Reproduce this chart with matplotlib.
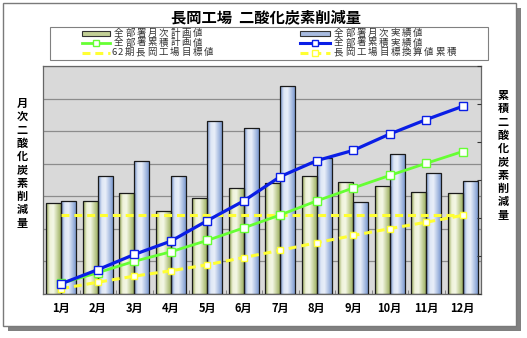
import numpy as np
import matplotlib
matplotlib.use('Agg')
import matplotlib.pyplot as plt
from matplotlib.patches import Rectangle
from matplotlib.lines import Line2D
from matplotlib.colors import LinearSegmentedColormap

plt.rcParams['font.family'] = ['Noto Sans CJK JP', 'DejaVu Sans']

months = ['1月', '2月', '3月', '4月', '5月', '6月', '7月', '8月', '9月', '10月', '11月', '12月']
plan_monthly = [279, 285, 309, 255, 295, 326, 340, 362, 344, 333, 313, 310]
actual_monthly = [287, 361, 407, 361, 532, 510, 638, 417, 281, 430, 370, 346]
plan_cum = [280, 560, 860, 1110, 1410, 1740, 2080, 2450, 2790, 3120, 3440, 3750]
actual_cum = [270, 640, 1040, 1390, 1930, 2450, 3090, 3510, 3780, 4210, 4590, 4940]
target_monthly = [242] * 12
target_cum = [140, 310, 470, 610, 770, 960, 1150, 1350, 1540, 1720, 1890, 2070]

W, H = 527, 338
fig = plt.figure(figsize=(W / 100, H / 100), dpi=100)

# overlay in pixel coords for frame, title, legend, axis labels
ov = fig.add_axes([0, 0, 1, 1], zorder=0)
ov.set_xlim(0, W)
ov.set_ylim(H, 0)
ov.axis('off')
ov.add_patch(Rectangle((8, 8), 513, 323, facecolor='#808080', edgecolor='none'))
ov.add_patch(Rectangle((3, 3), 513, 323, facecolor='white', edgecolor='#7a7a7a', lw=1))
ov.text(266, 17, '長岡工場  二酸化炭素削減量', fontsize=11, fontweight='bold',
        ha='center', va='center')

# legend
ov.add_patch(Rectangle((50, 27), 438, 33, facecolor='white', edgecolor='#808080', lw=0.8))
blue_c = '#0a1ee6'
green_c = '#66ff33'
yellow_c = '#ffff33'
rows = [33.5, 43, 52.5]
ov.add_patch(Rectangle((82, rows[0] - 2.5), 28, 5, facecolor='#c3d096', edgecolor='#333333', lw=0.8))
ov.add_patch(Rectangle((300, rows[0] - 2.5), 30, 5, facecolor='#a8bbe0', edgecolor='#333333', lw=0.8))
ov.add_line(Line2D([82, 96, 110], [rows[1]] * 3, color=green_c, lw=2, marker='s', markevery=[1],
                   markersize=5, markerfacecolor='white', markeredgecolor=green_c))
ov.add_line(Line2D([300, 315, 330], [rows[1]] * 3, color=blue_c, lw=2.2, marker='s', markevery=[1],
                   markersize=5, markerfacecolor='white', markeredgecolor=blue_c))
ov.add_line(Line2D([82, 110], [rows[2]] * 2, color=yellow_c, lw=2.2, ls=(0, (2.6, 1.6))))
ov.add_line(Line2D([300, 315, 330], [rows[2]] * 3, color=yellow_c, lw=2.2, ls=(0, (2.6, 1.6)),
                   marker='s', markevery=[1], markersize=4.5, markerfacecolor='white',
                   markeredgecolor=yellow_c))
labels = [('全部署月次計画値', 113, rows[0]), ('全部署累積計画値', 113, rows[1]),
          ('62期長岡工場目標値', 111, rows[2]), ('全部署月次実績値', 333, rows[0]),
          ('全部署累積実績値', 333, rows[1]), ('長岡工場目標換算値累積', 333, rows[2])]
for txt, x, y in labels:
    # letter-spaced like the original
    for ch in txt:
        w = 6.3 if ch.isascii() else 11.3
        ov.text(x + w / 2, y, ch, fontsize=6.8, ha='center', va='center', color='#333333')
        x += w

for i, ch in enumerate('月次二酸化炭素削減量'):
    ov.text(22, 103.5 + i * 13.3, ch, fontsize=8, fontweight='bold', ha='center', va='center')
for i, ch in enumerate('累積二酸化炭素削減量'):
    ov.text(503, 95.5 + i * 13.3, ch, fontsize=8, fontweight='bold', ha='center', va='center')

# main axes
x0, x1, ytop, ybot = 43, 481, 66, 294
ax = fig.add_axes([x0 / W, 1 - ybot / H, (x1 - x0) / W, (ybot - ytop) / H], zorder=1)
ax.set_facecolor('#d9d9d9')
x = np.arange(1, 13)
bw = 0.41

green_cm = LinearSegmentedColormap.from_list('g', ['#8ea04e', '#eef2d8', '#f4f7e6', '#c9d5a2', '#9fb163'])
blue_cm = LinearSegmentedColormap.from_list('b', ['#6d8cc4', '#dde6f5', '#e9eff9', '#b4c6e6', '#7e9bd0'])
grad = np.linspace(0, 1, 64).reshape(1, -1)

def gradient_bars(xs, vals, cmap):
    bars = ax.bar(xs, vals, width=bw, facecolor='none', edgecolor='#1a1a1a', lw=0.9, zorder=3)
    for b in bars:
        im = ax.imshow(grad, cmap=cmap, aspect='auto', zorder=2.5,
                       extent=[b.get_x(), b.get_x() + b.get_width(), 0, b.get_height()])
        im.set_clip_path(b)
    return bars

gradient_bars(x - bw / 2, plan_monthly, green_cm)
gradient_bars(x + bw / 2, actual_monthly, blue_cm)
ax.plot(x, target_monthly, color=yellow_c, lw=2.2, ls=(0, (2.6, 1.6)), zorder=4)

ax.set_xlim(0.5, 12.5)
ax.set_ylim(0, 700)
ax.set_yticks(np.arange(0, 701, 100))
ax.yaxis.grid(True, color='#8c8c8c', lw=0.9)
ax.set_axisbelow(True)
ax.tick_params(axis='y', length=0, labelleft=False)
ax.set_xticks(x)
ax.set_xticklabels(months, fontsize=8, fontweight='bold')
ax.tick_params(axis='x', length=0, pad=6)
ax.set_xticks(np.arange(1.5, 12, 1), minor=True)
ax.tick_params(axis='x', which='minor', direction='in', length=3, color='#777777')
for s in ax.spines.values():
    s.set_color('#666666')
    s.set_linewidth(0.9)

ax2 = ax.twinx()
ax2.set_zorder(2)
ax2.set_ylim(0, 6000)
ax2.set_yticks(np.arange(0, 6001, 1000))
ax2.tick_params(axis='y', direction='in', length=3, labelright=False, color='#333333')
for s in ax2.spines.values():
    s.set_visible(False)
ax2.plot(x, target_cum, color=yellow_c, lw=2.2, ls=(0, (2.6, 1.6)), marker='s', markersize=4.5,
         markerfacecolor='white', markeredgecolor=yellow_c, zorder=3)
ax2.plot(x, plan_cum, color=green_c, lw=2, marker='s', markersize=5.5,
         markerfacecolor='white', markeredgecolor=green_c, zorder=4)
ax2.plot(x, actual_cum, color=blue_c, lw=2.3, marker='s', markersize=5.5,
         markerfacecolor='white', markeredgecolor=blue_c, zorder=5)

fig.savefig('out.png', dpi=100)
